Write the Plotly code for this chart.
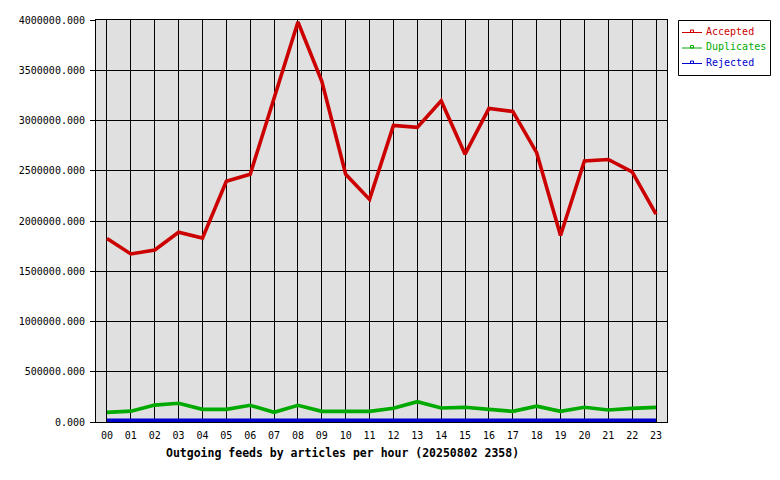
import plotly.graph_objects as go

hours = ["00", "01", "02", "03", "04", "05", "06", "07", "08", "09", "10", "11",
         "12", "13", "14", "15", "16", "17", "18", "19", "20", "21", "22", "23"]

accepted = [1825000, 1672000, 1712000, 1888000, 1830000, 2395000, 2465000, 3220000,
            3980000, 3390000, 2465000, 2215000, 2950000, 2932000, 3197000, 2665000,
            3120000, 3090000, 2680000, 1855000, 2598000, 2612000, 2488000, 2068000]

duplicates = [96000, 108000, 168000, 186000, 126000, 126000, 166000, 96000,
              166000, 106000, 106000, 106000, 136000, 202000, 139000, 146000,
              126000, 106000, 158000, 106000, 146000, 119000, 136000, 146000]

rejected = [18000, 18000, 18000, 18000, 18000, 18000, 18000, 18000,
            18000, 18000, 18000, 18000, 18000, 18000, 18000, 18000,
            18000, 18000, 18000, 18000, 18000, 18000, 18000, 18000]

series_names = ["Accepted", "Duplicates", "Rejected"]
series_colors = ["#cc0000", "#00aa00", "#0000cc"]
title_text = "Outgoing feeds by articles per hour (20250802 2358)"

MONO = "DejaVu Sans Mono"

# plot area in pixels
L, R, T, B = 96, 667, 20, 422
W, H = 780, 480


def px_x(p):
    return (p - L) / (R - L)


def px_y(p):
    return (B - p) / (B - T)


fig = go.Figure()
for name, vals, col in [(series_names[2], rejected, series_colors[2]),
                        (series_names[1], duplicates, series_colors[1]),
                        (series_names[0], accepted, series_colors[0])]:
    fig.add_trace(go.Scatter(
        x=hours, y=vals, name=name, mode="lines",
        line=dict(color=col, width=3.6),
        showlegend=False, hoverinfo="x+y+name",
    ))

shapes = []
annotations = []

# custom legend box
shapes.append(dict(type="rect", xref="paper", yref="paper",
                   x0=px_x(678.5), x1=px_x(770.5), y0=px_y(75.5), y1=px_y(20.5),
                   line=dict(color="black", width=1), fillcolor="white", layer="above"))
entry_y = [32.5, 48, 63.5]
for name, col, ey in zip(series_names, series_colors, entry_y):
    shapes.append(dict(type="line", xref="paper", yref="paper",
                       x0=px_x(682), x1=px_x(702), y0=px_y(ey), y1=px_y(ey),
                       line=dict(color=col, width=1), layer="above"))
    shapes.append(dict(type="rect", xref="paper", yref="paper",
                       x0=px_x(690.5), x1=px_x(693.5), y0=px_y(ey), y1=px_y(ey - 2.5),
                       line=dict(color=col, width=1), fillcolor="rgba(0,0,0,0)", layer="above"))
    annotations.append(dict(xref="paper", yref="paper", x=px_x(704), y=px_y(ey - 1),
                            text=name, showarrow=False, xanchor="left", yanchor="middle",
                            font=dict(family=MONO, size=10, color=col)))

annotations.append(dict(xref="paper", yref="paper", x=px_x(342.5), y=px_y(452.5),
                        text="<b>" + title_text + "</b>", showarrow=False,
                        xanchor="center", yanchor="middle",
                        font=dict(family=MONO, size=11.5, color="black")))

fig.update_layout(
    width=W, height=H,
    margin=dict(l=L, r=W - R, t=T, b=H - B, pad=0),
    paper_bgcolor="white",
    plot_bgcolor="#e0e0e0",
    font=dict(family=MONO, size=10, color="black"),
    shapes=shapes,
    annotations=annotations,
    showlegend=False,
    xaxis=dict(
        type="category",
        range=[-0.46, 23.46],
        showgrid=True, gridcolor="black", gridwidth=1,
        showline=True, linecolor="black", linewidth=1, mirror=True,
        ticks="outside", ticklen=4, tickcolor="rgba(0,0,0,0)",
        tickfont=dict(family=MONO, size=10, color="black"),
        zeroline=False, fixedrange=True,
    ),
    yaxis=dict(
        range=[0, 4000000],
        dtick=500000, tick0=0,
        tickformat=".3f",
        showgrid=True, gridcolor="black", gridwidth=1,
        showline=True, linecolor="black", linewidth=1, mirror=True,
        ticks="outside", ticklen=5, tickcolor="black",
        ticklabelstandoff=3,
        tickfont=dict(family=MONO, size=10, color="black"),
        zeroline=False, fixedrange=True,
    ),
)

fig.write_html(
    "out.html",
    config={"displayModeBar": False, "staticPlot": False},
    post_script="document.body.style.margin='0';document.body.style.padding='0';document.body.style.overflow='hidden';",
)
